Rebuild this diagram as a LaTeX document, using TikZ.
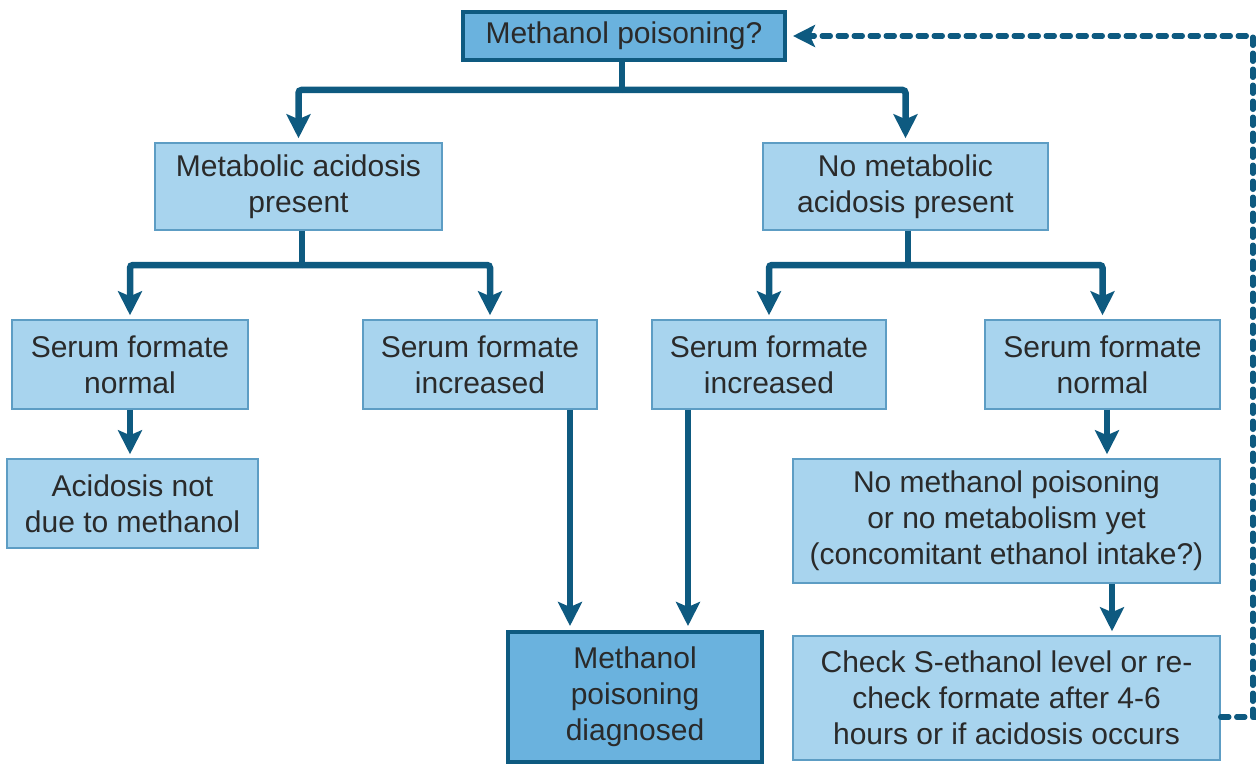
\documentclass[tikz,border=0pt]{standalone}
\usepackage{fontspec}
\setmainfont{Liberation Sans}
\usetikzlibrary{arrows.meta}
\definecolor{boxfill}{HTML}{A8D4EE}
\definecolor{darkfill}{HTML}{6AB2DE}
\definecolor{boxline}{HTML}{5D9DC4}
\definecolor{arrowcol}{HTML}{0E5A80}
\definecolor{txt}{HTML}{2A2A2A}
\begin{document}
\begin{tikzpicture}[x=1pt,y=-1pt,
  lightbox/.style={draw=boxline,line width=1.5pt,fill=boxfill,inner sep=0pt,align=center,text=txt,
     font=\fontsize{30}{36}\selectfont},
  darkbox/.style={draw=arrowcol,line width=4pt,fill=darkfill,inner sep=0pt,align=center,text=txt,
     font=\fontsize{30}{36}\selectfont},
  conn/.style={draw=arrowcol,line width=6.5pt},
  arr/.style={draw=arrowcol,line width=6.5pt,rounded corners=3pt,shorten >=4pt,-{Stealth[width=24pt,length=24pt,inset=5pt]}},
  dashedconn/.style={draw=arrowcol,line width=5.5pt,line cap=round,dash pattern=on 8pt off 8pt,shorten >=6pt,-{Stealth[width=22pt,length=22pt,inset=5pt]}}]
\useasboundingbox (0,0) rectangle (1258,765);
% nodes
\node[darkbox,minimum width=322pt,minimum height=48pt] (top) at (624,36) {Methanol poisoning?};
\node[lightbox,minimum width=287pt,minimum height=87pt] (ma) at (298.5,186.5) {Metabolic acidosis\\present};
\node[lightbox,minimum width=285pt,minimum height=87pt] (nma) at (905.5,186.5) {No metabolic\\acidosis present};
\node[lightbox,minimum width=236pt,minimum height=89pt] (sfn1) at (130,364.5) {Serum formate\\normal};
\node[lightbox,minimum width=234pt,minimum height=89pt] (sfi1) at (480,364.5) {Serum formate\\increased};
\node[lightbox,minimum width=234pt,minimum height=89pt] (sfi2) at (769,364.5) {Serum formate\\increased};
\node[lightbox,minimum width=235pt,minimum height=89pt] (sfn2) at (1102.5,364.5) {Serum formate\\normal};
\node[lightbox,minimum width=251pt,minimum height=89pt] (acid) at (132.5,503.5) {Acidosis not\\due to methanol};
\node[lightbox,minimum width=427pt,minimum height=124pt] (nomp) at (1006.5,521) {No methanol poisoning\\or no metabolism yet\\(concomitant ethanol intake?)};
\node[darkbox,minimum width=254pt,minimum height=130pt] (diag) at (635,697) {Methanol\\poisoning\\diagnosed};
\node[lightbox,minimum width=427pt,minimum height=124pt] (check) at (1006.5,698) {Check S-ethanol level or re-\\check formate after 4-6\\hours or if acidosis occurs};
% junction coordinates
\coordinate (j0) at (622,90);
\coordinate (j1) at (302,265);
\coordinate (j2) at (908,265);
\coordinate (x1) at (490,0);
\coordinate (x2) at (570,0);
\coordinate (x3) at (688,0);
\coordinate (x4) at (1107,0);
\coordinate (x5) at (1112,0);
% top split
\draw[conn] (top.south -| j0) -- (j0);
\draw[arr] (j0) -| (ma.north);
\draw[arr] (j0) -| (nma.north);
% left split
\draw[conn] (ma.south -| j1) -- (j1);
\draw[arr] (j1) -| (sfn1.north);
\draw[arr] (j1) -| (sfi1.north -| x1);
% right split
\draw[conn] (nma.south -| j2) -- (j2);
\draw[arr] (j2) -| (sfi2.north);
\draw[arr] (j2) -| (sfn2.north);
% verticals
\draw[arr] (sfn1.south) -- (acid.north -| sfn1.south);
\draw[arr] (sfi1.south -| x2) -- (diag.north -| x2);
\draw[arr] (sfi2.south -| x3) -- (diag.north -| x3);
\draw[arr] (sfn2.south -| x4) -- (nomp.north -| x4);
\draw[arr] (nomp.south -| x5) -- (check.north -| x5);
% dashed feedback
\coordinate (d1) at (1253,717);
\coordinate (d2) at (1253,36);
\draw[dashedconn] (check.east |- d1) -- (d1) -- (d2) -- (top.east);
\end{tikzpicture}
\end{document}
